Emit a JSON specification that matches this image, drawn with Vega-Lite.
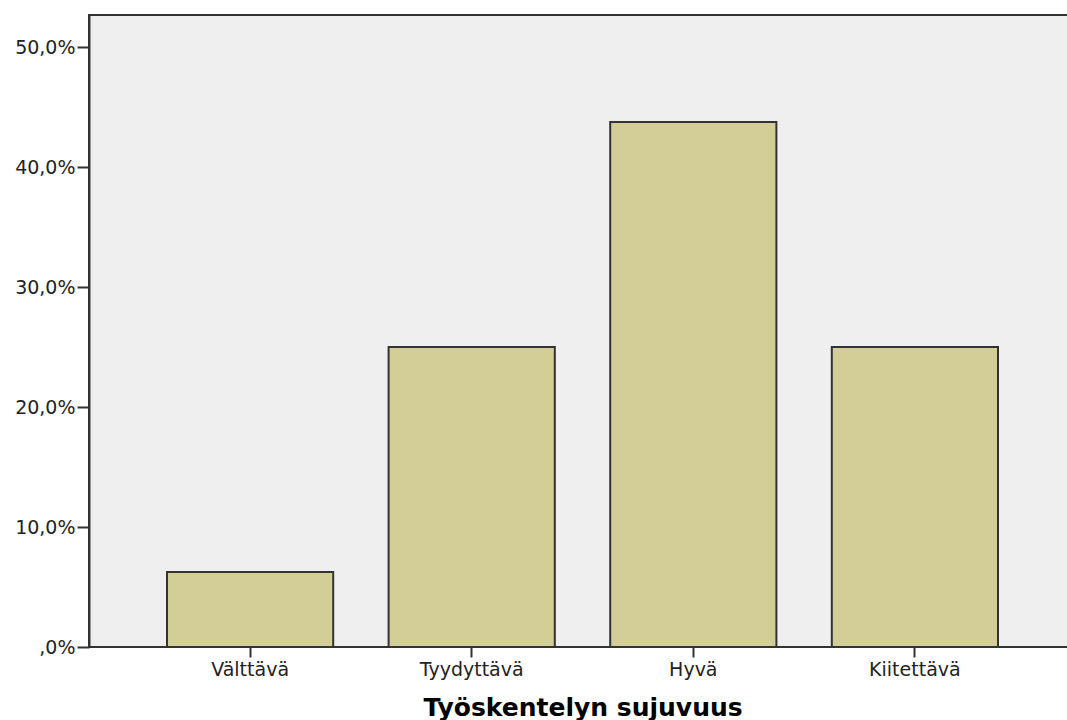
{
  "$schema": "https://vega.github.io/schema/vega-lite/v6.json",
  "width": 987,
  "height": 632,
  "padding": {"left": 89, "top": 15, "right": 0, "bottom": 73},
  "autosize": {"type": "none"},
  "background": "white",
  "data": {"values": [
    {"kategoria": "Välttävä", "prosentti": 6.25},
    {"kategoria": "Tyydyttävä", "prosentti": 25},
    {"kategoria": "Hyvä", "prosentti": 43.75},
    {"kategoria": "Kiitettävä", "prosentti": 25}
  ]},
  "config": {
    "view": {"fill": "#efefef", "stroke": "#333333", "strokeWidth": 2},
    "axis": {"grid": false, "domainColor": "#333333", "domainWidth": 2, "tickColor": "#333333", "tickWidth": 2, "labelFont": "DejaVu Sans", "labelFontSize": 19, "labelColor": "#222222"}
  },
  "mark": {"type": "bar", "fill": "#d3ce97", "stroke": "#333333", "strokeWidth": 2},
  "encoding": {
    "x": {
      "field": "kategoria", "type": "nominal", "sort": null,
      "scale": {"paddingInner": 0.25, "paddingOuter": 0.352},
      "axis": {"labelAngle": 0, "tickSize": 10, "labelPadding": 3, "title": "Työskentelyn sujuvuus", "titleFont": "DejaVu Sans", "titleFontSize": 25, "titleFontWeight": "bold", "titleColor": "#000000", "titlePadding": 16, "domain": false}
    },
    "y": {
      "field": "prosentti", "type": "quantitative",
      "scale": {"domain": [0, 52.67], "nice": false},
      "axis": {"values": [0, 10, 20, 30, 40, 50], "tickSize": 12, "title": null, "labelPadding": 2, "labelExpr": "datum.value == 0 ? ',0%' : replace(format(datum.value, '.1f'), '.', ',') + '%'"}
    }
  }
}
